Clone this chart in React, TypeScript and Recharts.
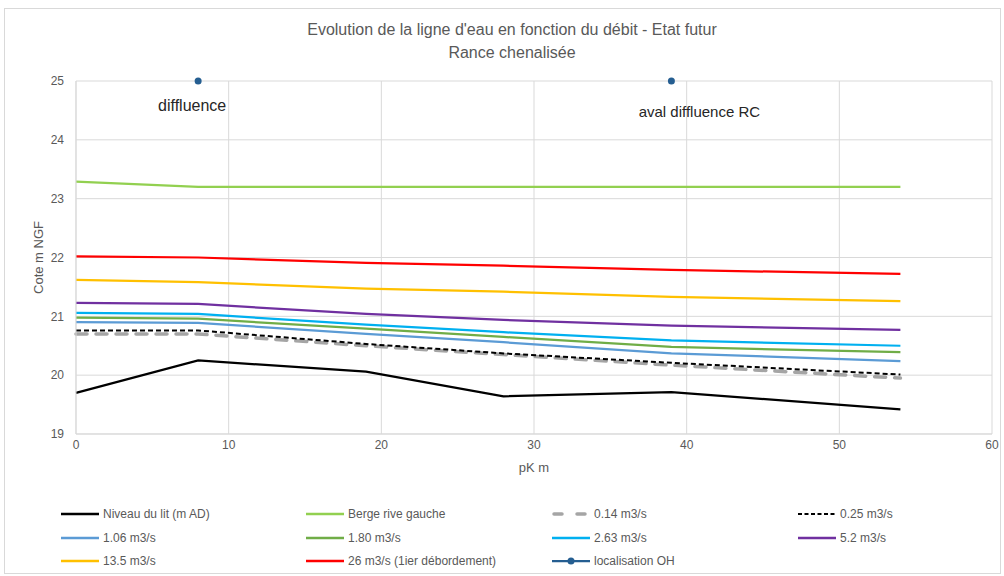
import { CartesianGrid, LabelList, Line, LineChart, Scatter, XAxis, YAxis } from "recharts";

// pk (m) of each computed section
const pk = [0, 8, 19, 28, 39, 54];

const niveauLit = [19.7, 20.25, 20.06, 19.64, 19.71, 19.42];
const bergeRG = [23.29, 23.2, 23.2, 23.2, 23.2, 23.2];
const q014 = [20.7, 20.7, 20.5, 20.35, 20.17, 19.95];
const q025 = [20.76, 20.76, 20.53, 20.37, 20.21, 20.01];
const q106 = [20.9, 20.89, 20.7, 20.56, 20.37, 20.24];
const q180 = [20.98, 20.96, 20.79, 20.65, 20.48, 20.39];
const q263 = [21.06, 21.04, 20.86, 20.73, 20.59, 20.5];
const q52 = [21.23, 21.21, 21.04, 20.94, 20.84, 20.77];
const q135 = [21.62, 21.58, 21.47, 21.42, 21.33, 21.26];
const q26 = [22.02, 22.0, 21.91, 21.86, 21.79, 21.72];

// ouvrages hydrauliques
const ohPk = [8, 39];
const ohCote = [25, 25];
const ohNames = ["diffluence", "aval diffluence RC"];

const xTicks = [0, 10, 20, 30, 40, 50, 60];
const yTicks = [19, 20, 21, 22, 23, 24, 25];

const FONT = "'Liberation Sans', Arial, sans-serif";
const TXT = "#595959";
const GRID = "#d9d9d9";

type SeriesDef = {
  key: string;
  name: string;
  values: number[];
  color: string;
  width: number;
  dash?: string;
  cap?: "round" | "butt";
};

const series: SeriesDef[] = [
  { key: "lit", name: "Niveau du lit (m AD)", values: niveauLit, color: "#000000", width: 2.25 },
  { key: "berge", name: "Berge rive gauche", values: bergeRG, color: "#92d050", width: 2.25 },
  { key: "q014", name: "0.14 m3/s", values: q014, color: "#a5a5a5", width: 3.5, dash: "11 9", cap: "round" },
  { key: "q025", name: "0.25 m3/s", values: q025, color: "#000000", width: 2, dash: "5 3" },
  { key: "q106", name: "1.06 m3/s", values: q106, color: "#5b9bd5", width: 2.25 },
  { key: "q180", name: "1.80 m3/s", values: q180, color: "#70ad47", width: 2.25 },
  { key: "q263", name: "2.63 m3/s", values: q263, color: "#00b0f0", width: 2.25 },
  { key: "q52", name: "5.2 m3/s", values: q52, color: "#7030a0", width: 2.25 },
  { key: "q135", name: "13.5 m3/s", values: q135, color: "#ffc000", width: 2.25 },
  { key: "q26", name: "26 m3/s (1ier débordement)", values: q26, color: "#ff0000", width: 2.25 },
];

const OH_COLOR = "#255e91";

const data = pk.map((p, i) => {
  const row: Record<string, number> = { pk: p };
  series.forEach((s) => (row[s.key] = s.values[i]));
  return row;
});

const ohData = ohPk.map((p, i) => ({ pk: p, cote: ohCote[i], name: ohNames[i] }));

const ohLabelShift = [
  { dx: -6, dy: 24, size: 16 },
  { dx: 28, dy: 30, size: 15 },
];

const renderOhLabel = (props: any) => {
  const { x, y, width, height, index, value } = props;
  const cx = x + (width || 0) / 2;
  const cy = y + (height || 0) / 2;
  const s = ohLabelShift[index] || { dx: 0, dy: 24, size: 15 };
  return (
    <text
      x={cx + s.dx}
      y={cy + s.dy}
      textAnchor="middle"
      dominantBaseline="central"
      fontSize={s.size}
      fontFamily={FONT}
      fill="#262626"
    >
      {value}
    </text>
  );
};

const legendCols = [61, 306, 552, 798];
const legendRows = [514, 538, 561];

function LegendIcon({ s, oh }: { s?: SeriesDef; oh?: boolean }) {
  return (
    <svg width={38} height={10} style={{ display: "block" }}>
      {oh ? (
        <>
          <line x1={0} y1={5} x2={38} y2={5} stroke={OH_COLOR} strokeWidth={2.25} />
          <circle cx={19} cy={5} r={3.5} fill={OH_COLOR} />
        </>
      ) : s?.key === "q014" ? (
        <>
          <line x1={2} y1={5} x2={10} y2={5} stroke={s.color} strokeWidth={3.5} strokeLinecap="round" />
          <line x1={25} y1={5} x2={33} y2={5} stroke={s.color} strokeWidth={3.5} strokeLinecap="round" />
        </>
      ) : (
        <line
          x1={0}
          y1={5}
          x2={38}
          y2={5}
          stroke={s!.color}
          strokeWidth={s!.key === "q025" ? 2 : 2.5}
          strokeDasharray={s!.key === "q025" ? "4 2.5" : undefined}
        />
      )}
    </svg>
  );
}

function ChartLegend() {
  const items = [...series.map((s) => ({ s, oh: false })), { s: undefined, oh: true }];
  return (
    <>
      {items.map((it, i) => {
        const col = i % 4;
        const row = Math.floor(i / 4);
        return (
          <div
            key={i}
            style={{
              position: "absolute",
              left: legendCols[col],
              top: legendRows[row] - 8,
              height: 16,
              display: "flex",
              alignItems: "center",
              gap: 4,
              fontFamily: FONT,
              fontSize: 12,
              color: TXT,
              whiteSpace: "nowrap",
            }}
          >
            <LegendIcon s={it.s} oh={it.oh} />
            <span>{it.oh ? "localisation OH" : it.s!.name}</span>
          </div>
        );
      })}
    </>
  );
}

export default function App() {
  return (
    <div style={{ position: "absolute", left: 0, top: 0, width: 1004, height: 576, background: "#fff", overflow: "hidden" }}>
      <div
        style={{
          position: "absolute",
          left: 4,
          top: 8,
          width: 997,
          height: 566,
          border: `1px solid ${GRID}`,
          boxSizing: "border-box",
        }}
      />
      <div
        style={{
          position: "absolute",
          left: 0,
          width: 1024,
          top: 18,
          textAlign: "center",
          fontFamily: FONT,
          fontSize: 16,
          lineHeight: "23px",
          color: TXT,
        }}
      >
        <div>Evolution de la ligne d'eau en fonction du débit - Etat futur</div>
        <div>Rance chenalisée</div>
      </div>
      <div style={{ position: "absolute", left: 0, top: 0 }}>
        <LineChart width={1004} height={576} data={data} margin={{ top: 81, right: 12, bottom: 102, left: 0 }}>
          <CartesianGrid stroke={GRID} strokeWidth={1} />
          <XAxis
            dataKey="pk"
            type="number"
            domain={[0, 60]}
            ticks={xTicks}
            tick={{ fontSize: 12, fill: TXT, fontFamily: FONT }}
            tickLine={false}
            axisLine={{ stroke: GRID }}
            tickMargin={0}
            height={40}
            label={{ value: "pK m", position: "insideBottom", offset: 2, fontSize: 13, fill: TXT, fontFamily: FONT }}
          />
          <YAxis
            type="number"
            domain={[19, 25]}
            ticks={yTicks}
            width={76}
            tick={{ fontSize: 12, fill: TXT, fontFamily: FONT }}
            tickLine={false}
            axisLine={{ stroke: GRID }}
            tickMargin={6}
            label={{ value: "Cote m NGF", angle: -90, position: "center", fontSize: 13, fill: TXT, fontFamily: FONT }}
          />
          {series.map((s) => (
            <Line
              key={s.key}
              dataKey={s.key}
              name={s.name}
              type="linear"
              stroke={s.color}
              strokeWidth={s.width}
              strokeDasharray={s.dash}
              strokeLinecap={s.cap || "butt"}
              dot={false}
              activeDot={false}
              isAnimationActive={false}
            />
          ))}
          <Scatter
            data={ohData}
            dataKey="cote"
            name="localisation OH"
            fill={OH_COLOR}
            shape={(p: any) => <circle cx={p.cx} cy={p.cy} r={3.5} fill={OH_COLOR} />}
            isAnimationActive={false}
          >
            <LabelList dataKey="name" content={renderOhLabel} />
          </Scatter>
        </LineChart>
      </div>
      <ChartLegend />
    </div>
  );
}
